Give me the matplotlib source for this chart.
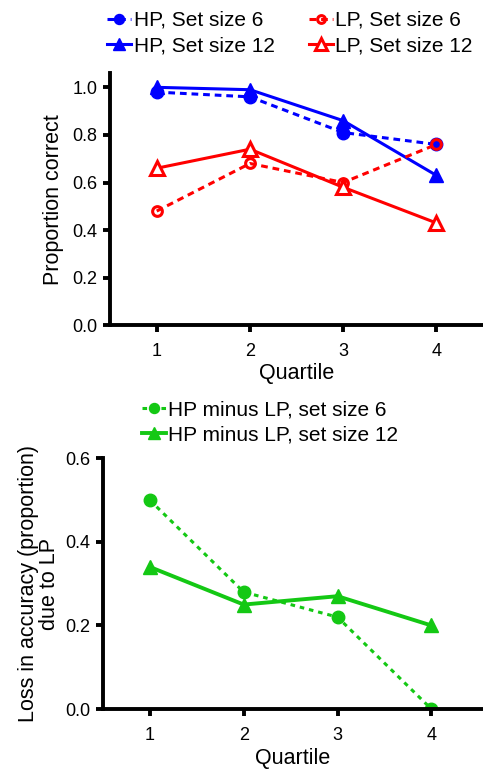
import matplotlib
matplotlib.use("Agg")
import matplotlib.pyplot as plt

plt.rcParams['font.family'] = ['Liberation Sans', 'DejaVu Sans']

quartiles = [1, 2, 3, 4]

# Proportion correct per quartile
hp_ss6 = [0.98, 0.96, 0.81, 0.76]
hp_ss12 = [1.00, 0.99, 0.86, 0.63]
lp_ss6 = [0.48, 0.68, 0.60, 0.76]
lp_ss12 = [0.66, 0.74, 0.58, 0.43]

# Loss in accuracy (HP minus LP)
diff_ss6 = [0.50, 0.28, 0.22, 0.00]
diff_ss12 = [0.34, 0.25, 0.27, 0.20]

top_ticks = [0.0, 0.2, 0.4, 0.6, 0.8, 1.0]
bottom_ticks = [0.0, 0.2, 0.4, 0.6]

BLUE = '#0000ff'
RED = '#ff0000'
GREEN = '#14c814'

TICK_FS = 13
LABEL_FS = 15.5
LEGEND_FS = 15

fig = plt.figure(figsize=(4.83, 7.69), dpi=100)
ax1 = fig.add_axes([0.228, 0.577, 0.772, 0.328])
ax2 = fig.add_axes([0.213, 0.078, 0.787, 0.326])


def style_axes(ax):
    for side in ('top', 'right'):
        ax.spines[side].set_visible(False)
    for side in ('left', 'bottom'):
        ax.spines[side].set_linewidth(2.8)
    ax.tick_params(axis='both', which='major', direction='out', length=5,
                   width=2.8, labelsize=TICK_FS, pad=4)
    ax.tick_params(axis='x', pad=8)


lw = 2.2
l1, = ax1.plot(quartiles, hp_ss6, color=BLUE, ls=(0, (2.2, 1.6)), lw=lw,
               marker='o', ms=9, label='HP, Set size 6')
l2, = ax1.plot(quartiles, hp_ss12, color=BLUE, ls='-', lw=lw,
               marker='^', ms=10, label='HP, Set size 12')
l3, = ax1.plot(quartiles, lp_ss6, color=RED, ls=(0, (2.2, 1.6)), lw=lw,
               marker='o', ms=7, mfc='none', mew=2.2, label='LP, Set size 6')
l4, = ax1.plot(quartiles, lp_ss12, color=RED, ls='-', lw=lw,
               marker='^', ms=10, mfc='white', mew=2.2, label='LP, Set size 12')

ax1.set_xlim(0.5, 4.5)
ax1.set_ylim(0, 1.06)
ax1.set_yticks(top_ticks)
ax1.set_yticklabels([f'{t:.1f}' for t in top_ticks])
ax1.set_xticks(quartiles)
ax1.set_xlabel('Quartile', fontsize=LABEL_FS, labelpad=2)
ax1.set_ylabel('Proportion correct', fontsize=LABEL_FS, labelpad=6)
style_axes(ax1)

fig.legend(handles=[l1, l2, l3, l4], ncol=2, loc='center left',
           bbox_to_anchor=(0.222, 0.957), frameon=False, fontsize=LEGEND_FS,
           handlelength=1.15, handletextpad=0.12, columnspacing=1.65,
           labelspacing=0.3, borderaxespad=0.0, borderpad=0.0,
           markerscale=0.8)

m1, = ax2.plot(quartiles, diff_ss6, color=GREEN, ls=(0, (1.5, 1.6)), lw=lw,
               marker='o', ms=9, label='HP minus LP, set size 6')
m2, = ax2.plot(quartiles, diff_ss12, color=GREEN, ls='-', lw=lw + 0.6,
               marker='^', ms=10, label='HP minus LP, set size 12')
ax2.set_xlim(0.5, 4.55)
ax2.set_ylim(0, 0.6)
ax2.set_yticks(bottom_ticks)
ax2.set_yticklabels([f'{t:.1f}' for t in bottom_ticks])
ax2.set_xticks(quartiles)
ax2.set_xlabel('Quartile', fontsize=LABEL_FS, labelpad=3)
ax2.set_ylabel('Loss in accuracy (proportion)\ndue to LP', fontsize=LABEL_FS,
               labelpad=4, linespacing=0.95)
style_axes(ax2)

fig.legend(handles=[m1, m2], loc='center left', bbox_to_anchor=(0.294, 0.451),
           frameon=False, fontsize=LEGEND_FS, handlelength=1.15,
           handletextpad=0.12, labelspacing=0.3, borderaxespad=0.0,
           borderpad=0.0, markerscale=0.8)

fig.savefig('out.png', dpi=100, facecolor='white')
